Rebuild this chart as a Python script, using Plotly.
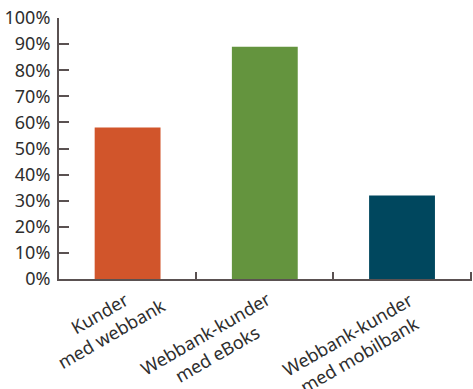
import plotly.graph_objects as go

categories = ["Kunder<br>med webbank", "Webbank-kunder<br>med eBoks", "Webbank-kunder<br>med mobilbank"]
values = [0.58, 0.89, 0.32]
colors = ["#D1552B", "#64943E", "#00475E"]
ytick_vals = [i / 10 for i in range(11)]
ytick_text = [f"{i*10}%" for i in range(11)]

# label placement offsets (pixels) relative to category center at axis
label_shifts = [(-23, -44), (-54, -64), (-49, -65)]

xpos = list(range(len(categories)))
boundaries = [i - 0.5 for i in range(len(categories) + 1)]

fig = go.Figure(go.Bar(x=xpos, y=values, marker=dict(color=colors, line=dict(width=0)), width=0.48,
                       hovertext=categories))

axis_color = "#5a5151"
text_color = "#2e2e2e"
fig.update_layout(
    width=473, height=389,
    margin=dict(l=59, r=1, t=18, b=110),
    paper_bgcolor="white", plot_bgcolor="white",
    font=dict(family="Noto Sans", size=18, color=text_color),
    showlegend=False,
)
fig.update_yaxes(
    range=[0, 1], tickvals=ytick_vals, ticktext=ytick_text,
    showgrid=False, zeroline=False,
    showline=True, linecolor=axis_color, linewidth=2,
    ticks="inside", ticklen=10, tickcolor=axis_color, tickwidth=2,
    ticklabelstandoff=3, tickfont=dict(size=18),
)
fig.update_xaxes(
    showgrid=False, zeroline=False,
    showline=True, linecolor=axis_color, linewidth=2,
    ticks="inside", ticklen=7, tickcolor=axis_color, tickwidth=2,
    tickvals=boundaries, showticklabels=False,
    range=[-0.5, len(categories) - 0.49],
)
for i, (cat, (dx, dy)) in enumerate(zip(categories, label_shifts)):
    fig.add_annotation(
        x=xpos[i], xref="x", y=0, yref="paper",
        text=cat, showarrow=False, textangle=-30, align="center",
        xanchor="center", yanchor="middle", xshift=dx, yshift=dy,
        font=dict(family="Noto Sans", size=18, color=text_color),
    )
fig.write_html("out.html")
